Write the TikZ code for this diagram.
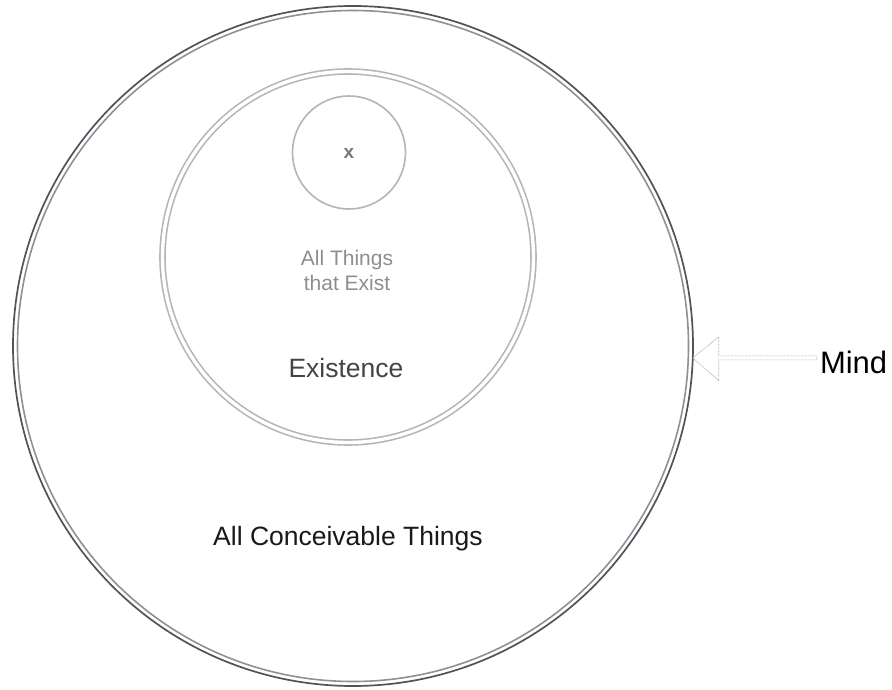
\documentclass[tikz,border=0pt]{standalone}
\usepackage{fontspec}
\setmainfont{Liberation Sans}
\usetikzlibrary{calc}
\definecolor{darkline}{HTML}{50545A}
\definecolor{midline}{HTML}{8D9094}
\definecolor{lightline}{HTML}{B5B5B5}
\definecolor{thingtext}{HTML}{8E8E8E}
\definecolor{existtext}{HTML}{444444}
\definecolor{xtext}{HTML}{777777}
\definecolor{arrowgray}{HTML}{ABABAB}
\begin{document}
\begin{tikzpicture}[x=1pt,y=-1pt,
  ring/.style={circle, inner sep=0pt, outer sep=0pt},
  label/.style={inner sep=0pt, outer sep=0pt},
  hollowarrow/.style={draw=arrowgray, line width=0.7pt, dash pattern=on 0.7pt off 0.7pt, line join=miter}
]
\useasboundingbox[fill=white] (0,0) rectangle (892,690);

% outer circle: dark outer line, gray inner line
\node[ring, draw=darkline, line width=1.7pt, minimum size=680pt] (all) at (353,346) {};
\draw[midline, line width=1.6pt] (all.center) circle (335.5);

% existence circle (double light gray)
\node[ring, draw=lightline, double=white, line width=1.6pt, double distance=3.4pt, minimum size=371pt] (exist) at (348,257) {};

% small circle
\node[ring, draw=lightline, line width=1.6pt, minimum size=113pt] (small) at (349,152.5) {};

% texts
\node[label, anchor=base, text=xtext, font=\fontsize{19}{23}\selectfont\bfseries] (x) at (349,158.3) {x};
\node[label, anchor=base, align=center, text=thingtext, font=\fontsize{21}{25}\selectfont] (things) at (347,290) {All Things\\that Exist};
\node[label, anchor=base, text=existtext, font=\fontsize{26.5}{30}\selectfont] (existence) at (346,377) {Existence};
\node[label, anchor=base, text=black!90, font=\fontsize{26.5}{30}\selectfont] (conceivable) at (348,545) {All Conceivable Things};
\node[label, anchor=base west, text=black, font=\fontsize{31}{36}\selectfont] (mind) at (820,373) {Mind};

% hollow arrow from Mind to the outer circle
\coordinate (tip) at (all.-2.7);
\draw[hollowarrow]
  ($(mind.west |- tip)+(-3,-2)$) -- ($(tip)+(26,-2)$) -- ($(tip)+(26,-21)$) -- (tip)
  -- ($(tip)+(26,23)$) -- ($(tip)+(26,2)$) -- ($(mind.west |- tip)+(-3,2)$) -- cycle;
\end{tikzpicture}
\end{document}
